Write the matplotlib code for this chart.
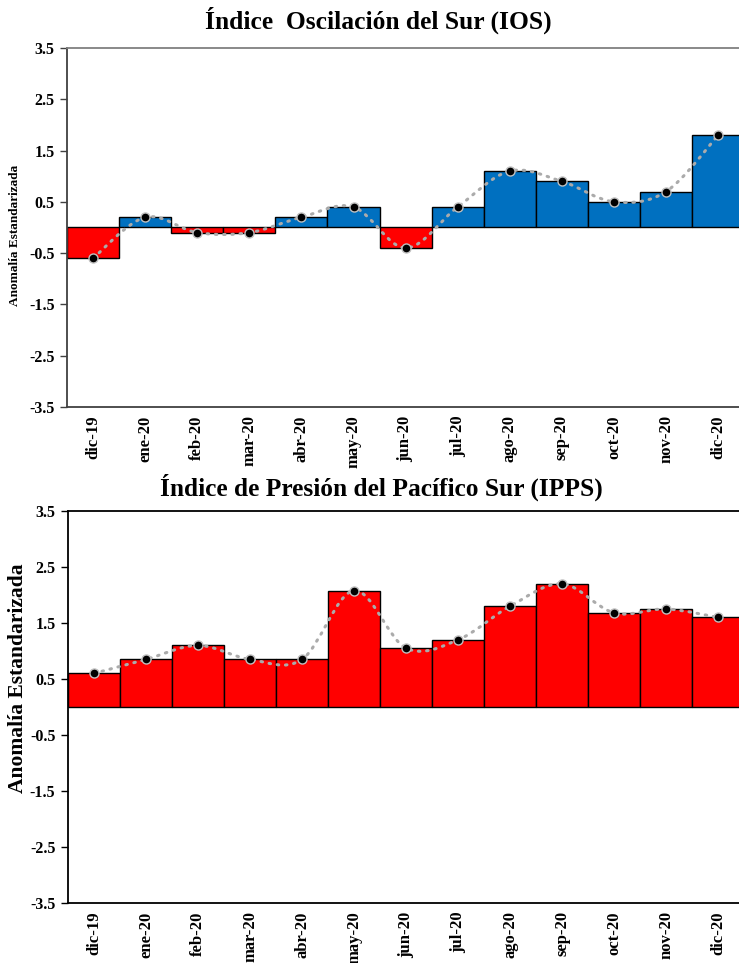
import matplotlib
matplotlib.use("Agg")
import matplotlib.pyplot as plt
from matplotlib.path import Path
from matplotlib.patches import PathPatch
import numpy as np

months = ["dic-19", "ene-20", "feb-20", "mar-20", "abr-20", "may-20", "jun-20",
          "jul-20", "ago-20", "sep-20", "oct-20", "nov-20", "dic-20"]
ios_values = [-0.6, 0.2, -0.1, -0.1, 0.2, 0.4, -0.4, 0.4, 1.1, 0.9, 0.5, 0.7, 1.8]
ipps_values = [0.6, 0.85, 1.1, 0.85, 0.85, 2.08, 1.05, 1.2, 1.8, 2.2, 1.68, 1.75, 1.6]
yticks = [3.5, 2.5, 1.5, 0.5, -0.5, -1.5, -2.5, -3.5]
title_ios = "Índice  Oscilación del Sur (IOS)"
title_ipps = "Índice de Presión del Pacífico Sur (IPPS)"
ylabel = "Anomalía Estandarizada"

BLUE = "#0070C0"
RED = "#FF0000"
SERIF = ["Liberation Serif", "DejaVu Serif"]

plt.rcParams["font.family"] = SERIF
plt.rcParams["font.weight"] = "bold"

fig = plt.figure(figsize=(7.39, 9.63), dpi=100)


def smooth_path(x, y):
    pts = np.column_stack([x, y]).astype(float)
    n = len(pts)
    verts = [pts[0]]
    codes = [Path.MOVETO]
    for i in range(n - 1):
        p0 = pts[i - 1] if i > 0 else pts[i]
        p1 = pts[i]
        p2 = pts[i + 1]
        p3 = pts[i + 2] if i + 2 < n else pts[i + 1]
        c1 = p1 + (p2 - p0) / 6.0
        c2 = p2 - (p3 - p1) / 6.0
        verts += [c1, c2, p2]
        codes += [Path.CURVE4] * 3
    return Path(verts, codes)


def draw(ax, values, colors, spine_color, top_color, tick_fs, xfs):
    x = np.arange(len(values))
    ax.bar(x, values, width=1.0, color=colors, edgecolor="black", linewidth=1.0, zorder=2)
    patch = PathPatch(smooth_path(x, values), facecolor="none", edgecolor="#ABABAB",
                      linewidth=2.2, linestyle=(0, (0.5, 2.2)), capstyle="round", zorder=3)
    ax.add_patch(patch)
    ax.plot(x, values, linestyle="none", marker="o", markersize=6.5,
            markerfacecolor="black", markeredgecolor="#BFBFBF", markeredgewidth=1.0, zorder=4)
    ax.set_ylim(-3.5, 3.5)
    ax.set_xlim(-0.5, 12.4)
    ax.set_yticks(yticks)
    ax.set_yticklabels([f"{v:.1f}" for v in yticks], fontsize=tick_fs, fontweight="bold")
    ax.set_xticks(x)
    ax.set_xticklabels(months, rotation=90, fontsize=xfs, fontweight="bold")
    ax.tick_params(axis="x", length=0, pad=6)
    ax.tick_params(axis="y", length=5, width=1, color=spine_color, pad=4)
    ax.spines["right"].set_visible(False)
    ax.spines["top"].set_color(top_color)
    ax.spines["left"].set_color(spine_color)
    ax.spines["bottom"].set_color(spine_color)
    for s in ["top", "left", "bottom"]:
        ax.spines[s].set_linewidth(1.3)


ax1 = fig.add_axes([67 / 739, 556 / 963, 672 / 739, 359 / 963])
c1 = [RED if v < 0 else BLUE for v in ios_values]
draw(ax1, ios_values, c1, "#404040", "#808080", 11.5, 12)
fig.text(378 / 739, 1 - 20 / 963, title_ios, ha="center", va="center",
         fontsize=18.4, fontweight="bold")
fig.text(15 / 739, 1 - 235 / 963, ylabel, ha="center", va="center", rotation=90,
         fontsize=9.5, fontweight="bold")

ax2 = fig.add_axes([68 / 739, 60 / 963, 671 / 739, 392 / 963])
c2 = [RED for v in ipps_values]
draw(ax2, ipps_values, c2, "black", "black", 11.5, 12)
fig.text(381 / 739, 1 - 487 / 963, title_ipps, ha="center", va="center",
         fontsize=18.3, fontweight="bold")
fig.text(18 / 739, 1 - 678 / 963, ylabel, ha="center", va="center", rotation=90,
         fontsize=15.5, fontweight="bold")

fig.savefig("out.png", dpi=100)
